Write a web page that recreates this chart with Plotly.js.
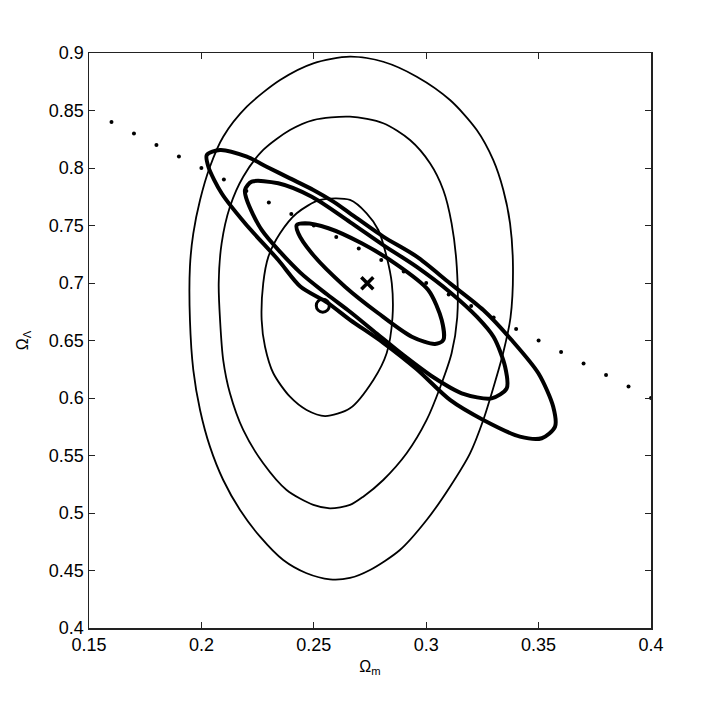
<!DOCTYPE html>
<html>
<head>
<meta charset="utf-8">
<script src="https://cdn.plot.ly/plotly-3.0.1.min.js"></script>
<style>
  html, body { margin: 0; padding: 0; background: #fff; }
  #plot { width: 707px; height: 707px; }
</style>
</head>
<body>
<div id="plot"></div>
<script>
// thin contours (the upright ones), clockwise from the top
var thinOuterX = [0.2661, 0.2809, 0.2958, 0.3106, 0.3225, 0.3298, 0.3343, 0.3373, 0.3386, 0.3375, 0.3342, 0.3300, 0.3254, 0.3195, 0.3106, 0.3002, 0.2883, 0.2750, 0.2661, 0.2572, 0.2468, 0.2364, 0.2261, 0.2172, 0.2097, 0.2038, 0.1994, 0.1964, 0.1949, 0.1949, 0.1964, 0.1994, 0.2038, 0.2097, 0.2202, 0.2350, 0.2498, 0.2661];
var thinOuterY = [0.8968, 0.8924, 0.8794, 0.8591, 0.8330, 0.8070, 0.7809, 0.7519, 0.7142, 0.6700, 0.6389, 0.6098, 0.5809, 0.5519, 0.5229, 0.4939, 0.4678, 0.4504, 0.4435, 0.4423, 0.4476, 0.4591, 0.4794, 0.5026, 0.5287, 0.5577, 0.5896, 0.6243, 0.6678, 0.7142, 0.7432, 0.7722, 0.8011, 0.8272, 0.8533, 0.8765, 0.8910, 0.8968];

var thinMidX = [0.2661, 0.2809, 0.2928, 0.3017, 0.3076, 0.3113, 0.3136, 0.3138, 0.3113, 0.3063, 0.3002, 0.2913, 0.2809, 0.2720, 0.2661, 0.2572, 0.2498, 0.2379, 0.2275, 0.2186, 0.2127, 0.2097, 0.2083, 0.2077, 0.2090, 0.2127, 0.2186, 0.2275, 0.2394, 0.2498, 0.2661];
var thinMidY = [0.8446, 0.8389, 0.8243, 0.8041, 0.7809, 0.7519, 0.7142, 0.6700, 0.6389, 0.6098, 0.5809, 0.5519, 0.5287, 0.5142, 0.5070, 0.5041, 0.5070, 0.5200, 0.5432, 0.5722, 0.6041, 0.6330, 0.6678, 0.6997, 0.7345, 0.7663, 0.7924, 0.8157, 0.8330, 0.8417, 0.8446];

var thinInnerX = [0.2661, 0.2735, 0.2787, 0.2824, 0.2847, 0.2850, 0.2824, 0.2765, 0.2661, 0.2550, 0.2468, 0.2394, 0.2320, 0.2283, 0.2268, 0.2275, 0.2298, 0.2350, 0.2424, 0.2528, 0.2661];
var thinInnerY = [0.7722, 0.7606, 0.7461, 0.7229, 0.6997, 0.6700, 0.6389, 0.6157, 0.5910, 0.5843, 0.5896, 0.6011, 0.6215, 0.6446, 0.6678, 0.6997, 0.7229, 0.7432, 0.7606, 0.7722, 0.7722];

// thick contours (the tilted ones), clockwise from the upper-left tip
var thickOuterX = [0.2024, 0.2083, 0.2202, 0.2290, 0.2394, 0.2498, 0.2587, 0.2661, 0.2809, 0.2958, 0.3106, 0.3254, 0.3380, 0.3499, 0.3565, 0.3573, 0.3514, 0.3417, 0.3254, 0.3106, 0.2958, 0.2809, 0.2661, 0.2560, 0.2440, 0.2342, 0.2194, 0.2090, 0.2031, 0.2024];
var thickOuterY = [0.8113, 0.8157, 0.8098, 0.8011, 0.7910, 0.7809, 0.7707, 0.7606, 0.7403, 0.7229, 0.6997, 0.6765, 0.6504, 0.6215, 0.5924, 0.5750, 0.5650, 0.5664, 0.5809, 0.5983, 0.6250, 0.6480, 0.6680, 0.6830, 0.6970, 0.7200, 0.7519, 0.7780, 0.8011, 0.8113];

var thickMidX = [0.2194, 0.2224, 0.2342, 0.2491, 0.2661, 0.2809, 0.2958, 0.3106, 0.3225, 0.3300, 0.3351, 0.3358, 0.3291, 0.3158, 0.3032, 0.2900, 0.2780, 0.2661, 0.2560, 0.2440, 0.2268, 0.2202, 0.2194];
var thickMidY = [0.7809, 0.7881, 0.7867, 0.7750, 0.7530, 0.7330, 0.7140, 0.6920, 0.6707, 0.6530, 0.6272, 0.6084, 0.5997, 0.6041, 0.6180, 0.6370, 0.6560, 0.6750, 0.6900, 0.7090, 0.7461, 0.7722, 0.7809];

var thickInnerX = [0.2424, 0.2461, 0.2565, 0.2713, 0.2861, 0.3009, 0.3069, 0.3076, 0.3039, 0.2936, 0.2787, 0.2639, 0.2491, 0.2431, 0.2424];
var thickInnerY = [0.7504, 0.7519, 0.7476, 0.7345, 0.7171, 0.6939, 0.6678, 0.6504, 0.6470, 0.6533, 0.6737, 0.6968, 0.7258, 0.7432, 0.7504];

// flat-universe line, dotted
var flatX = [0.16, 0.17, 0.18, 0.19, 0.20, 0.21, 0.22, 0.23, 0.24, 0.25, 0.26, 0.27, 0.28, 0.29, 0.30, 0.31, 0.32, 0.33, 0.34, 0.35, 0.36, 0.37, 0.38, 0.39, 0.40];
var flatY = [0.84, 0.83, 0.82, 0.81, 0.80, 0.79, 0.78, 0.77, 0.76, 0.75, 0.74, 0.73, 0.72, 0.71, 0.70, 0.69, 0.68, 0.67, 0.66, 0.65, 0.64, 0.63, 0.62, 0.61, 0.60];

// best-fit markers
var circleX = [0.2540];
var circleY = [0.6803];
var crossX = [0.2738];
var crossY = [0.6997];

var xTicks = [0.15, 0.2, 0.25, 0.3, 0.35, 0.4];
var xTickText = ["0.15", "0.2", "0.25", "0.3", "0.35", "0.4"];
var yTicks = [0.4, 0.45, 0.5, 0.55, 0.6, 0.65, 0.7, 0.75, 0.8, 0.85, 0.9];
var yTickText = ["0.4", "0.45", "0.5", "0.55", "0.6", "0.65", "0.7", "0.75", "0.8", "0.85", "0.9"];

function contour(x, y, w) {
  return {
    x: x, y: y, type: "scatter", mode: "lines",
    line: { color: "#000", width: w, shape: "spline", smoothing: 0.8 },
    hoverinfo: "skip"
  };
}

var data = [
  {
    x: flatX, y: flatY, type: "scatter", mode: "markers",
    marker: { color: "#000", size: 4 }, cliponaxis: false
  },
  contour(thinOuterX, thinOuterY, 1.8),
  contour(thinMidX, thinMidY, 1.8),
  contour(thinInnerX, thinInnerY, 1.8),
  contour(thickOuterX, thickOuterY, 4),
  contour(thickMidX, thickMidY, 4),
  contour(thickInnerX, thickInnerY, 4),
  {
    x: circleX, y: circleY, type: "scatter", mode: "markers",
    marker: { symbol: "circle-open", size: 13, color: "#000", line: { width: 3, color: "#000" } }
  },
  {
    x: crossX, y: crossY, type: "scatter", mode: "markers",
    marker: { symbol: "x-thin-open", size: 12, color: "#000", line: { width: 3.5, color: "#000" } }
  }
];

var fontFamily = "Liberation Sans, Arial, sans-serif";

var layout = {
  width: 707,
  height: 707,
  margin: { l: 89, r: 56, t: 53, b: 79 },
  paper_bgcolor: "#fff",
  plot_bgcolor: "#fff",
  showlegend: false,
  xaxis: {
    range: [0.15, 0.4],
    tickvals: xTicks,
    ticktext: xTickText,
    ticks: "inside",
    ticklen: 6,
    tickcolor: "#222",
    showline: true,
    linecolor: "#222",
    linewidth: 1.5,
    mirror: "ticks",
    showgrid: false,
    zeroline: false,
    tickfont: { family: fontFamily, size: 18, color: "#000" },
    title: { text: "Ω<sub>m</sub>", font: { family: fontFamily, size: 16, color: "#000" }, standoff: 6 }
  },
  yaxis: {
    range: [0.4, 0.9],
    tickvals: yTicks,
    ticktext: yTickText,
    ticks: "inside",
    ticklen: 6,
    tickcolor: "#222",
    showline: true,
    linecolor: "#222",
    linewidth: 1.5,
    mirror: "ticks",
    showgrid: false,
    zeroline: false,
    tickfont: { family: fontFamily, size: 18, color: "#000" },
    title: { text: "Ω<sub>Λ</sub>", font: { family: fontFamily, size: 16, color: "#000" }, standoff: 16 }
  }
};

Plotly.newPlot("plot", data, layout, { displayModeBar: false, staticPlot: true });
</script>
</body>
</html>
